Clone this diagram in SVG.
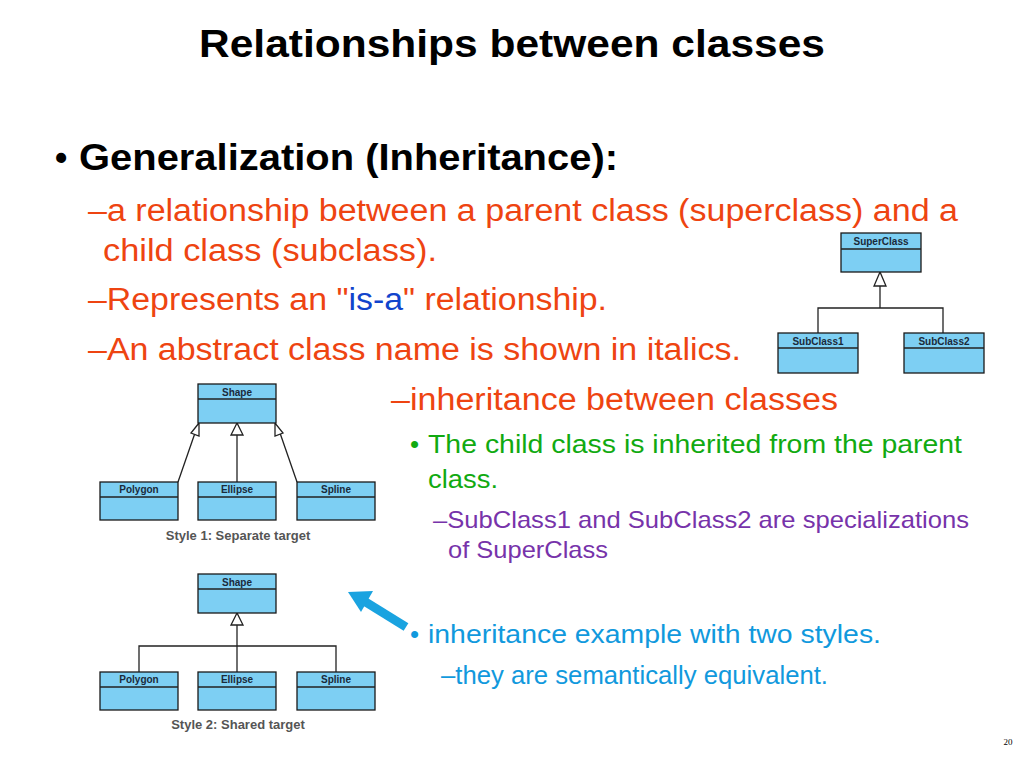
<svg xmlns="http://www.w3.org/2000/svg" width="1024" height="768" viewBox="0 0 1024 768">
<style>
.t{font-family:"Liberation Sans",Arial,sans-serif}
.box{fill:#7dcff3;stroke:#1a1a1a;stroke-width:1.3}
.bl{font-family:"Liberation Sans",Arial,sans-serif;font-weight:bold;font-size:10px;fill:#1a2a3a;text-anchor:middle}
.ln{stroke:#222;stroke-width:1.3;fill:none}
.tri{fill:#fff;stroke:#222;stroke-width:1.3}
.cap{font-family:"Liberation Sans",Arial,sans-serif;font-weight:bold;font-size:13px;fill:#555;text-anchor:middle}
.o{fill:#ee4411;font-size:31px}
.g{fill:#11aa11;font-size:26px}
.p{fill:#7733aa;font-size:24px}
.c{fill:#1199dd;font-size:26px}
</style>
<rect width="1024" height="768" fill="#fff"/>
<text class="t" x="199" y="57" font-size="38" font-weight="bold" textLength="626" lengthAdjust="spacingAndGlyphs">Relationships between classes</text>
<text class="t" x="55" y="170" font-size="35" font-weight="bold">•</text>
<text class="t" x="79" y="170" font-size="36" font-weight="bold" textLength="539" lengthAdjust="spacingAndGlyphs">Generalization (Inheritance):</text>
<text class="t o" x="88" y="221" textLength="870" lengthAdjust="spacingAndGlyphs">–a relationship between a parent class (superclass) and a</text>
<text class="t o" x="103" y="261" textLength="334" lengthAdjust="spacingAndGlyphs">child class (subclass).</text>
<text class="t o" x="88" y="310" textLength="519" lengthAdjust="spacingAndGlyphs">–Represents an "<tspan fill="#1144cc">is-a</tspan>" relationship.</text>
<text class="t o" x="88" y="360" textLength="653" lengthAdjust="spacingAndGlyphs">–An abstract class name is shown in italics.</text>
<text class="t o" x="391" y="410" textLength="447" lengthAdjust="spacingAndGlyphs">–inheritance between classes</text>
<text class="t g" x="410" y="453">•</text>
<text class="t g" x="428" y="453" textLength="534" lengthAdjust="spacingAndGlyphs">The child class is inherited from the parent</text>
<text class="t g" x="428" y="488" textLength="70" lengthAdjust="spacingAndGlyphs">class.</text>
<text class="t p" x="433" y="528" textLength="536" lengthAdjust="spacingAndGlyphs">–SubClass1 and SubClass2 are specializations</text>
<text class="t p" x="448" y="558" textLength="160" lengthAdjust="spacingAndGlyphs">of SuperClass</text>
<text class="t c" x="410" y="643">•</text>
<text class="t c" x="428" y="643" textLength="453" lengthAdjust="spacingAndGlyphs">inheritance example with two styles.</text>
<text class="t c" x="441" y="684" font-size="24" textLength="387" lengthAdjust="spacingAndGlyphs">–they are semantically equivalent.</text>
<text x="1008" y="745" font-family="Liberation Serif,serif" font-size="9" text-anchor="middle">20</text>

<g id="connectors">
<line class="ln" x1="880" y1="286" x2="880" y2="308" stroke="#666" stroke-width="2.5"/>
<polyline class="ln" points="818,333 818,308 943,308 943,333"/>
<polygon class="tri" points="880,272 874,286 886,286"/>
<line class="ln" x1="178" y1="482" x2="195" y2="433"/>
<line class="ln" x1="237" y1="482" x2="237" y2="435"/>
<line class="ln" x1="297" y1="482" x2="280" y2="433"/>
<polygon class="tri" points="199,423 191,433 199,436"/>
<polygon class="tri" points="237,423 231,435 243,435"/>
<polygon class="tri" points="275,423 275,436 283,433"/>
<line class="ln" x1="237" y1="625" x2="237" y2="672"/>
<polyline class="ln" points="139,672 139,646 336,646 336,672"/>
<polygon class="tri" points="237,613 231,625 243,625"/>
<line x1="406" y1="627" x2="364" y2="601" stroke="#1aa3e0" stroke-width="9"/>
<polygon points="348,592 373,591 361,612" fill="#1aa3e0"/>
</g>

<g id="SuperClass"><rect class="box" x="841" y="233" width="80" height="39"/><line class="ln" x1="841" y1="249" x2="921" y2="249"/><text class="bl" x="881" y="245">SuperClass</text></g>
<g id="SubClass1"><rect class="box" x="778" y="333" width="80" height="40"/><line class="ln" x1="778" y1="348" x2="858" y2="348"/><text class="bl" x="818" y="345">SubClass1</text></g>
<g id="SubClass2"><rect class="box" x="904" y="333" width="80" height="40"/><line class="ln" x1="904" y1="348" x2="984" y2="348"/><text class="bl" x="944" y="345">SubClass2</text></g>

<g id="Shape1"><rect class="box" x="198" y="384" width="78" height="39"/><line class="ln" x1="198" y1="399" x2="276" y2="399"/><text class="bl" x="237" y="396">Shape</text></g>
<g id="Polygon1"><rect class="box" x="100" y="482" width="78" height="38"/><line class="ln" x1="100" y1="497" x2="178" y2="497"/><text class="bl" x="139" y="493">Polygon</text></g>
<g id="Ellipse1"><rect class="box" x="198" y="482" width="78" height="38"/><line class="ln" x1="198" y1="497" x2="276" y2="497"/><text class="bl" x="237" y="493">Ellipse</text></g>
<g id="Spline1"><rect class="box" x="297" y="482" width="78" height="38"/><line class="ln" x1="297" y1="497" x2="375" y2="497"/><text class="bl" x="336" y="493">Spline</text></g>
<text class="cap" x="238" y="540">Style 1: Separate target</text>

<g id="Shape2"><rect class="box" x="198" y="574" width="78" height="39"/><line class="ln" x1="198" y1="589" x2="276" y2="589"/><text class="bl" x="237" y="586">Shape</text></g>
<g id="Polygon2"><rect class="box" x="100" y="672" width="78" height="38"/><line class="ln" x1="100" y1="687" x2="178" y2="687"/><text class="bl" x="139" y="683">Polygon</text></g>
<g id="Ellipse2"><rect class="box" x="198" y="672" width="78" height="38"/><line class="ln" x1="198" y1="687" x2="276" y2="687"/><text class="bl" x="237" y="683">Ellipse</text></g>
<g id="Spline2"><rect class="box" x="297" y="672" width="78" height="38"/><line class="ln" x1="297" y1="687" x2="375" y2="687"/><text class="bl" x="336" y="683">Spline</text></g>
<text class="cap" x="238" y="729">Style 2: Shared target</text>
</svg>
